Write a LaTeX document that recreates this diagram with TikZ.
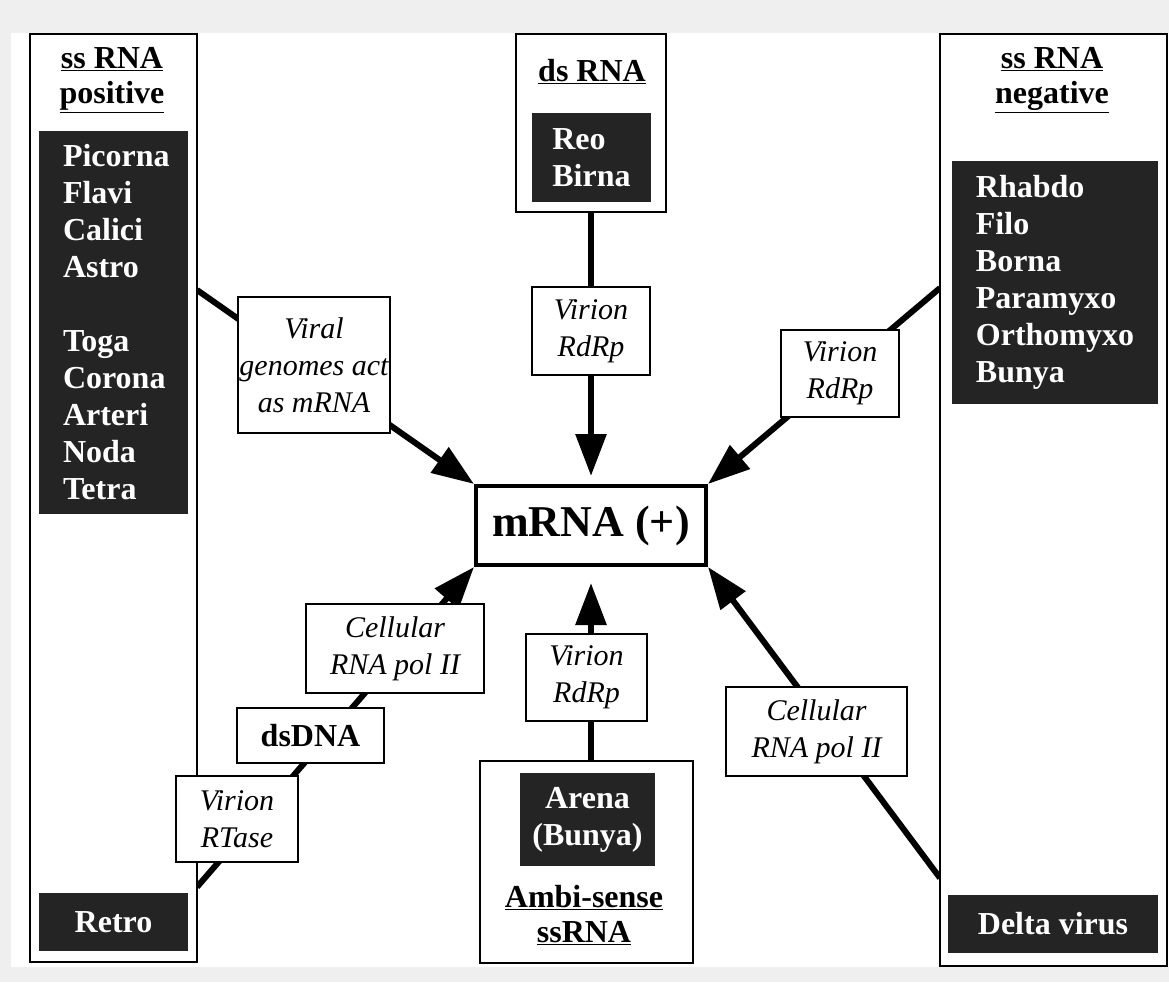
\documentclass[tikz,border=0pt]{standalone}
\usepackage{fontspec}
\setmainfont{Liberation Serif}
\usepackage{xcolor}
\usetikzlibrary{arrows.meta, positioning}
\definecolor{pagegray}{HTML}{EFEFEF}
\definecolor{blockgray}{HTML}{242424}
\pgfdeclarelayer{paper}
\pgfdeclarelayer{wires}
\pgfsetlayers{paper,wires,main}
\newcommand{\bodyfont}{\fontsize{32}{37}\selectfont}
\newcommand{\labelfont}{\fontsize{30}{37}\selectfont}

\begin{document}
\begin{tikzpicture}[
    x=1pt, y=-1pt,
    panel/.style={rectangle, draw, line width=1.5pt, inner sep=0pt, fill=white},
    family/.style={rectangle, fill=blockgray, text=white, font=\bodyfont\bfseries, align=left, inner sep=0pt},
    heading/.style={font=\fontsize{32}{35}\selectfont\bfseries, align=center, inner sep=0pt},
    enzyme/.style={rectangle, draw, line width=1.5pt, fill=white, font=\labelfont\itshape, align=center, inner sep=0pt},
    hub/.style={rectangle, draw, line width=4pt, fill=white, font=\fontsize{44}{50}\selectfont\bfseries, inner sep=0pt},
    flow/.style={line width=6pt, -{Triangle[length=42pt, width=30pt]}}
]
    \useasboundingbox (0,0) rectangle (1169,982);
    \begin{pgfonlayer}{paper}
        \fill[pagegray] (0,0) rectangle (1169,982);
        \fill[white] (11,33) rectangle (1169,967);
    \end{pgfonlayer}

    % genome classes
    \node[panel, minimum width=167, minimum height=928] (posbox) at (113.5,498) {};
    \node[panel, minimum width=150, minimum height=178] (dsbox) at (591,123) {};
    \node[panel, minimum width=227, minimum height=932] (negbox) at (1053.5,500) {};
    \node[panel, minimum width=213, minimum height=202] (ambibox) at (586.5,862) {};

    \node[heading] (postitle) at (112,80) {\underline{ss RNA}\\\underline{positive}};
    \node[heading] (dstitle) at (592,72) {\underline{ds RNA}};
    \node[heading] (negtitle) at (1052,80) {\underline{ss RNA}\\\underline{negative}};
    \node[heading] (ambititle) at (584,915) {\underline{Ambi-sense}\\\underline{ssRNA}};

    \node[family, minimum width=149, minimum height=383, text width=101pt, inner xsep=24pt, align=flush left] (posfam) at (113.5,322)
        {Picorna\\Flavi\\Calici\\Astro\\[37pt]Toga\\Corona\\Arteri\\Noda\\Tetra};
    \node[family, minimum width=149, minimum height=58, align=center] (retro) at (113.5,922) {Retro};
    \node[family, minimum width=119, minimum height=89] (dsfam) at (591.5,157.5) {Reo\\Birna};
    \node[family, minimum width=206, minimum height=243] (negfam) at (1055,282.5)
        {Rhabdo\\Filo\\Borna\\Paramyxo\\Orthomyxo\\Bunya};
    \node[family, minimum width=210, minimum height=58, align=center] (delta) at (1053,924) {Delta virus};
    \node[family, minimum width=135, minimum height=93, align=center] (arena) at (587.5,819.5) {Arena\\(Bunya)};

    \node[hub, minimum width=230, minimum height=79] (hub) at (591,525.5) {mRNA (+)};

    % enzymes on the routes
    \node[enzyme, minimum width=152, minimum height=136] (viral) at (314,365) {Viral\\genomes act\\as mRNA};
    \node[enzyme, minimum width=118, minimum height=88] (rdrptop) at (591,331) {Virion\\RdRp};
    \node[enzyme, minimum width=118, minimum height=87] (rdrpright) at (840,373.5) {Virion\\RdRp};
    \node[enzyme, minimum width=178, minimum height=89] (polleft) at (395,648.5) {Cellular\\RNA pol II};
    \node[enzyme, minimum width=147, minimum height=55, font=\bodyfont\bfseries] (dsdna) at (310.5,735.5) {dsDNA};
    \node[enzyme, minimum width=122, minimum height=86] (rtase) at (237,819) {Virion\\RTase};
    \node[enzyme, minimum width=121, minimum height=87] (rdrpbottom) at (586.5,677.5) {Virion\\RdRp};
    \node[enzyme, minimum width=181, minimum height=89] (polright) at (816.5,731.5) {Cellular\\RNA pol II};

    \coordinate (posout) at (197,290);
    \coordinate (retroout) at (197,887);
    \coordinate (negin) at (940,288);
    \coordinate (deltaout) at (940,878);

    \begin{pgfonlayer}{wires}
        \draw[flow] (posout) -- (hub.north west);
        \draw[flow, shorten >=8pt] (dsbox.south) -- (hub.north);
        \draw[flow] (negin) -- (hub.north east);
        \draw[flow] (retroout) -- (hub.south west);
        \draw[flow, shorten >=16pt] (hub.south |- ambibox.north) -- (hub.south);
        \draw[flow] (deltaout) -- (hub.south east);
    \end{pgfonlayer}
\end{tikzpicture}
\end{document}
